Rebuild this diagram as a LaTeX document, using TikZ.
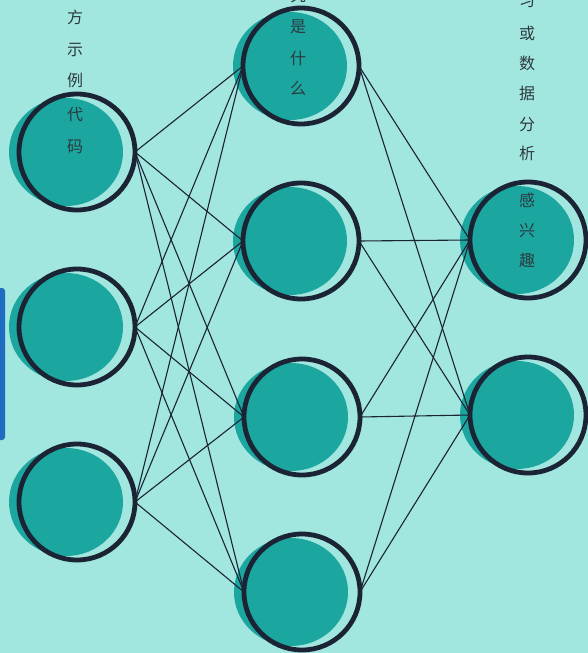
\documentclass[tikz,border=0pt]{standalone}
\usepackage{fontspec}
\newfontfamily\cjk{Noto Sans CJK SC}
\definecolor{bgc}{HTML}{A2E6E0}
\definecolor{tealc}{HTML}{1CA6A0}
\definecolor{ringc}{HTML}{1B2434}
\definecolor{txtc}{HTML}{2C3A3E}
\definecolor{barc}{HTML}{1E6DC2}
\tikzset{
  neuron/.style={circle, draw=ringc, line width=4.8pt, minimum size=116pt, inner sep=0pt, outer sep=0pt},
  link/.style={draw=ringc, line width=1.1pt},
  glyph/.style={text=txtc, font=\cjk\fontsize{16}{16}\selectfont, inner sep=0pt},
}
\begin{document}
\begin{tikzpicture}[x=1pt,y=-1pt]
\useasboundingbox (0,0) rectangle (588,653);
\clip (0,0) rectangle (588,653);
\fill[bgc] (0,0) rectangle (588,653);
\fill[barc, rounded corners=3pt] (-4,288) rectangle (5,440);
% fills
\foreach \p in {(77,152),(77,327),(77,502),(301,66),(301,241),(302,417),(302,592),(528,240),(528,415)}{
  \fill[tealc] \p ++(-11,0) ellipse [x radius=57, y radius=54];
}
% rings
\node[neuron] (i1) at (77,152) {};
\node[neuron] (i2) at (77,327) {};
\node[neuron] (i3) at (77,502) {};
\node[neuron] (h1) at (301,66) {};
\node[neuron] (h2) at (301,241) {};
\node[neuron] (h3) at (302,417) {};
\node[neuron] (h4) at (302,592) {};
\node[neuron] (o1) at (528,240) {};
\node[neuron] (o2) at (528,415) {};
\foreach \a in {i1,i2,i3}{
  \foreach \b in {h1,h2,h3,h4}{
    \draw[link] (\a.east) -- (\b.west);
  }
}
\foreach \a in {h1,h2,h3,h4}{
  \foreach \b in {o1,o2}{
    \draw[link] (\a.east) -- (\b.west);
  }
}
% texts
\node[glyph] (l1) at (75,17) {方};
\node[glyph] (l2) at (75,50) {示};
\node[glyph] (l3) at (75,80) {例};
\node[glyph] (l4) at (75,115) {代};
\node[glyph] (l5) at (75,147) {码};
\node[glyph] (m0) at (298,-5) {究};
\node[glyph] (m1) at (298,27) {是};
\node[glyph] (m2) at (298,58) {什};
\node[glyph] (m3) at (298,88) {么};
\node[glyph] (r0) at (527,1) {习};
\node[glyph] (r1) at (527,33) {或};
\node[glyph] (r2) at (527,63) {数};
\node[glyph] (r3) at (527,93) {据};
\node[glyph] (r4) at (527,125) {分};
\node[glyph] (r5) at (527,153) {析};
\node[glyph] (r6) at (527,200) {感};
\node[glyph] (r7) at (527,230) {兴};
\node[glyph] (r8) at (527,260) {趣};
\end{tikzpicture}
\end{document}
